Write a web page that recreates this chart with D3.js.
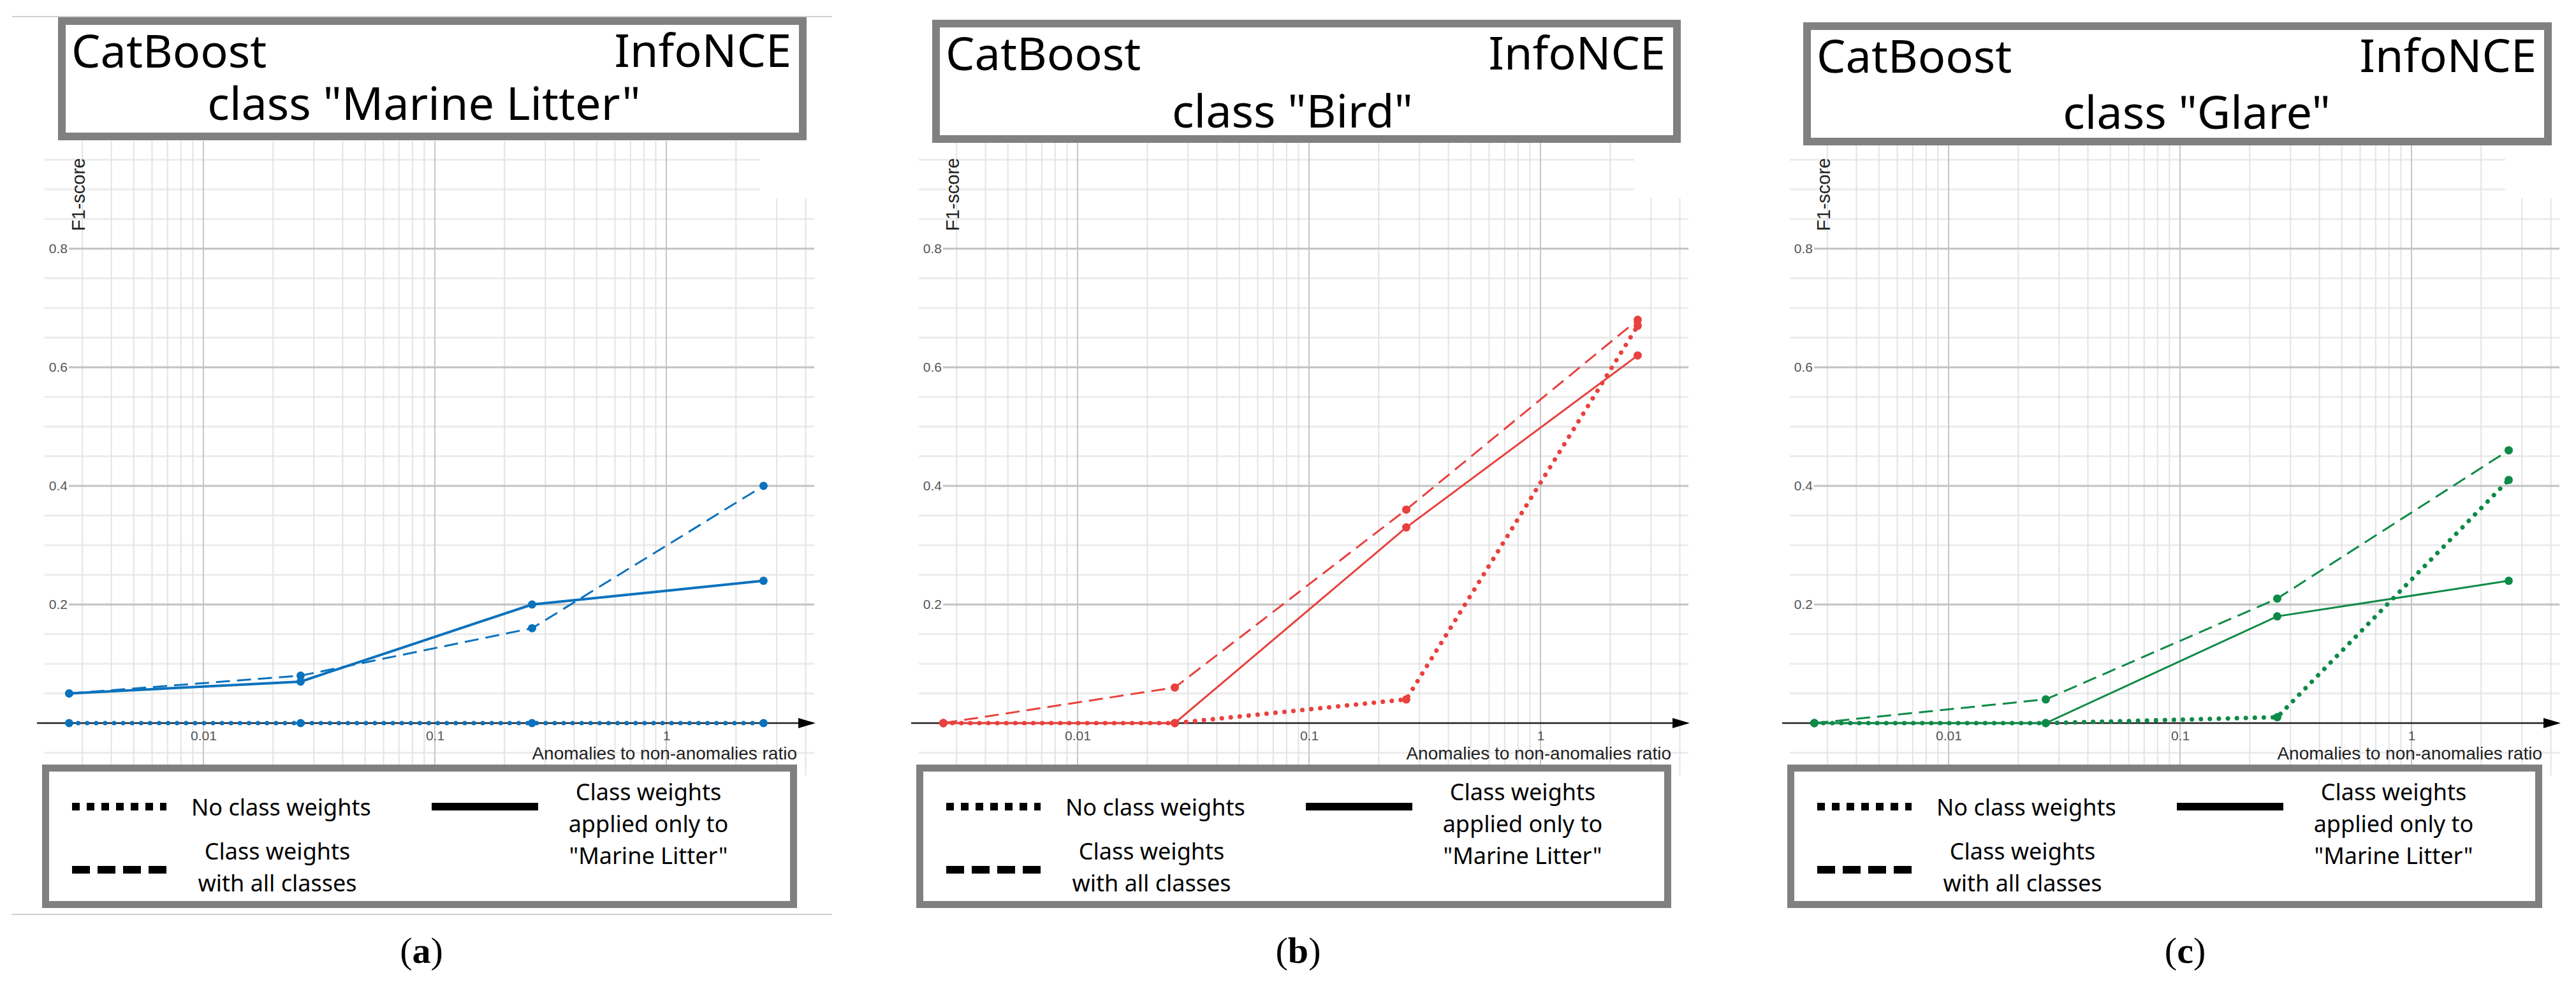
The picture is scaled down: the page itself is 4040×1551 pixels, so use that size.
<!DOCTYPE html>
<html lang="en">
  <head>
    <meta charset="UTF-8" />
    <title>CatBoost InfoNCE F1-score</title>
    <style>
      body {
        margin: 0;
        background: #fff;
      }
      .title {
        font-family: "Noto Sans", "Open Sans", sans-serif;
        font-size: 72px;
        fill: #000;
      }
      .leg {
        font-family: "Noto Sans", "Open Sans", sans-serif;
        font-size: 36px;
        fill: #000;
      }
      .ax text {
        font-family: "Liberation Sans", Arial, sans-serif;
        font-size: 21px;
        fill: #555;
      }
      .axtitle {
        font-family: "Liberation Sans", Arial, sans-serif;
        fill: #222;
      }
      .cap {
        font-family: "Liberation Serif", "DejaVu Serif", serif;
        font-size: 58px;
      }
    </style>
  </head>
  <body>
    <svg id="chart" width="4040" height="1551"></svg>

    <script src="https://d3js.org/d3.v7.min.js"></script>
    <script>
      // data
      var ratios = [0.00263, 0.0263, 0.263, 2.63];
      var classNames = ["Marine Litter", "Bird", "Glare"];
      var letters = ["a", "b", "c"];
      var noWeights = [
        [0, 0, 0, 0],
        [0, 0, 0.04, 0.67],
        [0, 0, 0.01, 0.41],
      ];
      var weightsAll = [
        [0.05, 0.08, 0.16, 0.4],
        [0, 0.06, 0.36, 0.68],
        [0, 0.04, 0.21, 0.46],
      ];
      var weightsMarine = [
        [0.05, 0.07, 0.2, 0.24],
        [0, 0, 0.33, 0.62],
        [0, 0, 0.18, 0.24],
      ];
      var xTicks = [0.01, 0.1, 1];
      var yTicks = [0.2, 0.4, 0.6, 0.8];

      // layout of the three panels
      var panels = [
        { dx: 0, tdy: 0, classX: 665, classY: 188, capX: 661, color: "#0b72bd", sw: 4 },
        { dx: 1371, tdy: 4, classX: 656, classY: 200, capX: 665, color: "#e9413d", sw: 3 },
        { dx: 2737, tdy: 8, classX: 708, classY: 202, capX: 690, color: "#0e8a47", sw: 3 },
      ];

      var svg = d3.select("#chart");
      svg.append("rect").attr("width", 4040).attr("height", 1551).attr("fill", "#fff");

      var x = d3.scaleLog().domain([0.01, 1]).range([319, 1045]);
      var y = d3.scaleLinear().domain([0, 0.8]).range([1134, 390]);
      var gx0 = 70, gx1 = 1277, gy0 = 221, gy1 = 1216;

      // minor vertical grid positions (2..9 of each decade)
      var xMinor = [];
      [0.001, 0.01, 0.1, 1].forEach(function (d) {
        for (var k = 2; k <= 9; k++) {
          var v = d * k;
          if (x(v) >= gx0 && x(v) <= gx1) xMinor.push(v);
        }
      });
      var yGrid = d3.range(-1, 20).map(function (i) { return +(i * 0.05).toFixed(2); });

      var line = d3.line()
        .x(function (d) { return x(d.r); })
        .y(function (d) { return y(d.v); });

      panels.forEach(function (p, pi) {
        var g = svg.append("g").attr("transform", "translate(" + p.dx + ",0)");

        // grid
        g.selectAll(".hmin").data(yGrid.filter(function (v) { return yTicks.indexOf(v) < 0; }))
          .join("line")
          .attr("x1", gx0).attr("x2", gx1)
          .attr("y1", function (d) { return y(d); }).attr("y2", function (d) { return y(d); })
          .attr("stroke", "#ececec").attr("stroke-width", 3);
        g.selectAll(".vmin").data(xMinor).join("line")
          .attr("x1", function (d) { return x(d); }).attr("x2", function (d) { return x(d); })
          .attr("y1", gy0).attr("y2", gy1)
          .attr("stroke", "#e3e3e3").attr("stroke-width", 2);
        g.selectAll(".vmaj").data(xTicks).join("line")
          .attr("x1", function (d) { return x(d); }).attr("x2", function (d) { return x(d); })
          .attr("y1", gy0).attr("y2", gy1)
          .attr("stroke", "#c6c6c6").attr("stroke-width", 2);
        g.selectAll(".hmaj").data(yTicks).join("line")
          .attr("x1", 108).attr("x2", gx1)
          .attr("y1", function (d) { return y(d); }).attr("y2", function (d) { return y(d); })
          .attr("stroke", "#c2c2c2").attr("stroke-width", 3);
        // blank corner top right
        g.append("rect").attr("x", 1192).attr("y", gy0).attr("width", 90).attr("height", 90).attr("fill", "#fff");

        // axes labels through d3 axes
        var ya = g.append("g").attr("class", "ax").attr("transform", "translate(108,0)")
          .call(d3.axisLeft(y).tickValues(yTicks).tickSize(0).tickPadding(2).tickFormat(d3.format(".1f")));
        ya.select(".domain").remove();
        var xa = g.append("g").attr("class", "ax").attr("transform", "translate(0," + y(0) + ")")
          .call(d3.axisBottom(x).tickValues(xTicks).tickSize(0).tickPadding(12).tickFormat(function (d) { return String(d); }));
        xa.select(".domain").remove();

        // x axis line with arrow
        g.append("line").attr("x1", 58).attr("x2", 1256).attr("y1", y(0)).attr("y2", y(0))
          .attr("stroke", "#222").attr("stroke-width", 2.5);
        g.append("path").attr("d", "M1252," + (y(0) - 8) + "L1279," + y(0) + "L1252," + (y(0) + 8) + "Z")
          .attr("fill", "#000");

        g.append("text").attr("class", "axtitle")
          .attr("transform", "translate(133,305) rotate(-90)")
          .attr("text-anchor", "middle").attr("font-size", 29)
          .text("F1-score");
        g.append("text").attr("class", "axtitle")
          .attr("x", 1250).attr("y", 1191).attr("text-anchor", "end").attr("font-size", 28)
          .text("Anomalies to non-anomalies ratio");

        // series
        var series = [
          { vals: noWeights[pi], dash: "0.1,14", w: 7, cap: "round" },
          { vals: weightsAll[pi], dash: "22,11", w: 3, cap: "butt" },
          { vals: weightsMarine[pi], dash: null, w: p.sw, cap: "round" },
        ];
        series.forEach(function (s) {
          var pts = s.vals.map(function (v, i) { return { r: ratios[i], v: v }; });
          g.append("path").datum(pts).attr("d", line)
            .attr("fill", "none").attr("stroke", p.color)
            .attr("stroke-width", s.w).attr("stroke-linecap", s.cap)
            .attr("stroke-dasharray", s.dash);
          g.selectAll(null).data(pts).join("circle")
            .attr("cx", function (d) { return x(d.r); })
            .attr("cy", function (d) { return y(d.v); })
            .attr("r", 6.5).attr("fill", p.color);
        });

        // title box
        g.append("rect").attr("x", 97).attr("y", 33 + p.tdy).attr("width", 1162).attr("height", 181)
          .attr("fill", "#fff").attr("stroke", "#808080").attr("stroke-width", 12);
        g.append("text").attr("class", "title").attr("x", 112).attr("y", 106 + p.tdy).text("CatBoost");
        g.append("text").attr("class", "title").attr("x", 1241).attr("y", 105 + p.tdy)
          .attr("text-anchor", "end").text("InfoNCE");
        g.append("text").attr("class", "title").attr("x", p.classX).attr("y", p.classY)
          .attr("text-anchor", "middle").text('class "' + classNames[pi] + '"');

        // legend box
        g.append("rect").attr("x", 71.5).attr("y", 1204.5).attr("width", 1173).attr("height", 214)
          .attr("fill", "#fff").attr("stroke", "#808080").attr("stroke-width", 11);
        g.append("line").attr("x1", 113).attr("x2", 261).attr("y1", 1265).attr("y2", 1265)
          .attr("stroke", "#000").attr("stroke-width", 12).attr("stroke-dasharray", "12,11");
        g.append("line").attr("x1", 113).attr("x2", 265).attr("y1", 1364).attr("y2", 1364)
          .attr("stroke", "#000").attr("stroke-width", 12).attr("stroke-dasharray", "28,12");
        g.append("line").attr("x1", 677).attr("x2", 844).attr("y1", 1265).attr("y2", 1265)
          .attr("stroke", "#000").attr("stroke-width", 12);
        g.append("text").attr("class", "leg").attr("x", 300).attr("y", 1279).text("No class weights");
        var t1 = g.append("text").attr("class", "leg").attr("text-anchor", "middle");
        t1.append("tspan").attr("x", 435).attr("y", 1348).text("Class weights");
        t1.append("tspan").attr("x", 435).attr("y", 1398).text("with all classes");
        var t2 = g.append("text").attr("class", "leg").attr("text-anchor", "middle");
        t2.append("tspan").attr("x", 1017).attr("y", 1255).text("Class weights");
        t2.append("tspan").attr("x", 1017).attr("y", 1305).text("applied only to");
        t2.append("tspan").attr("x", 1017).attr("y", 1355).text('"Marine Litter"');

        // caption
        var cap = g.append("text").attr("class", "cap").attr("x", p.capX).attr("y", 1510)
          .attr("text-anchor", "middle");
        cap.append("tspan").text("(");
        cap.append("tspan").attr("font-weight", "bold").text(letters[pi]);
        cap.append("tspan").text(")");
      });

      // thin frame lines around panel (a)
      svg.append("line").attr("x1", 19).attr("x2", 1305).attr("y1", 26).attr("y2", 26)
        .attr("stroke", "#cfcfcf").attr("stroke-width", 2);
      svg.append("line").attr("x1", 18).attr("x2", 1305).attr("y1", 1434).attr("y2", 1434)
        .attr("stroke", "#cfcfcf").attr("stroke-width", 2);
    </script>
  </body>
</html>
